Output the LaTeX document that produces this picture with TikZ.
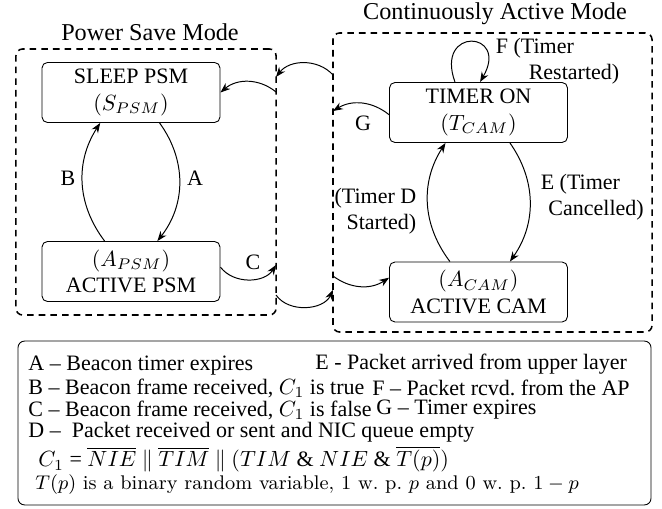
\documentclass[tikz,border=0pt]{standalone}
\usepackage{amsmath}
\usepackage{amssymb}
\usepackage{fontspec}
\setmainfont{Liberation Serif}
\usetikzlibrary{arrows.meta}

\tikzset{
  statebox/.style={draw, rounded corners=2.5pt, minimum width=80.9pt, minimum height=27.3pt, align=center, inner sep=0pt},
  modebox/.style={draw, line width=0.7pt, dash pattern=on 3pt off 2.3pt, rounded corners=3pt, inner sep=0pt},
  trans/.style={-{Stealth[length=4.5pt,width=3.4pt]}, line width=0.45pt},
  legline/.style={anchor=west, inner sep=0pt},
  titletext/.style={font=\fontsize{11}{13}\selectfont},
}

\begin{document}
\begin{tikzpicture}[x=0.4545pt, y=-0.4545pt]
\useasboundingbox (0,0) rectangle (662,508);

% the two modes
\node[modebox, minimum width=118.2pt, minimum height=120.9pt] (psm) at (146,182) {};
\node[modebox, minimum width=145pt, minimum height=135.9pt] (cam) at (492.5,182.5) {};
\node[titletext] (psmtitle) at (150,32) {Power Save Mode};
\node[titletext] (camtitle) at (495,14) {Continuously Active Mode};

% states
\node[statebox] (sleep) at (131,92.5) {SLEEP PSM\\$(S_{PSM})$};
\node[statebox] (actpsm) at (131,271.5) {$(A_{PSM})$\\ACTIVE PSM};
\node[statebox] (timer) at (478.5,112.5) {TIMER ON\\$(T_{CAM})$};
\node[statebox] (actcam) at (478.5,292) {$(A_{CAM})$\\ACTIVE CAM};

% points where transitions cross the mode borders
\coordinate (psmtop) at (276,77);
\coordinate (psmin) at (276,92);
\coordinate (psmout) at (276,265);
\coordinate (psmlow) at (276,295);
\coordinate (camtop) at (333,75);
\coordinate (camout) at (333,111);
\coordinate (camin) at (333,290);
\coordinate (camlow) at (333,276);

% inside power save mode
\draw[trans] ([xshift=13pt]sleep.south) to[bend left=37] ([xshift=12pt]actpsm.north);
\draw[trans] ([xshift=-12pt]actpsm.north) to[bend left=35] ([xshift=-14pt]sleep.south);
\node (lblA) at (195,178) {A};
\node (lblB) at (68,178) {B};

% inside continuously active mode
\draw[trans] ([xshift=14.3pt]timer.south) to[bend left=35] ([xshift=14.3pt]actcam.north);
\draw[trans] ([xshift=-13pt]actcam.north) to[bend left=35] ([xshift=-15pt]timer.south);
\draw[trans] ([xshift=-10.7pt]timer.north) to[out=110,in=60,distance=27pt] ([xshift=0.7pt]timer.north);
\node[align=left, anchor=west] (lblE) at (533,197) {E (Timer\\\hspace*{3.5pt}Cancelled)};
\node[align=right, anchor=east] (lblD) at (424,211) {(Timer D\\Started)};
\node[align=left, anchor=west] (lblF) at (488,61) {F (Timer\\\hspace*{15pt}Restarted)};

% between the modes
\draw[trans] ([yshift=-1pt]timer.west) to[bend right=35] (camout);
\draw[trans] (camtop) to[bend right=50] (psmtop);
\draw[trans] (psmin) to[bend right=40] (sleep.east);
\draw[trans] ([yshift=2pt]actpsm.east) to[bend right=55] (psmout);
\draw[trans] (psmlow) to[bend right=60] (camin);
\draw[trans] (camlow) to[bend right=35] ([yshift=6.5pt]actcam.west);
\node (lblG) at (363,123) {G};
\node (lblC) at (253,262) {C};

% legend
\node[draw, rounded corners=3pt, minimum width=287.7pt, minimum height=74.5pt] (legend) at (334.5,423) {};
\node[legline] (legA) at (28,366) {A -- Beacon timer expires};
\node[legline] (legB) at (28,388) {B -- Beacon frame received, $C_1$ is true};
\node[legline] (legC) at (28,410) {C -- Beacon frame received, $C_1$ is false};
\node[legline] (legD) at (28,432) {D --\ \ Packet received or sent and NIC queue empty};
\node[legline] (legE) at (315,364) {E - Packet arrived from upper layer};
\node[legline] (legF) at (372,388) {F -- Packet rcvd.\ from the AP};
\node[legline] (legG) at (376,410) {G -- Timer expires};
\node[legline] (legCone) at (38,459) {$C_1$ = $\overline{NIE}\ \|\ \overline{TIM}\ \|\ (TIM\ \&\ NIE\ \&\ \overline{T(p)})$};
\node[legline, font=\fontfamily{lmr}\fontsize{9}{11}\selectfont] (legT) at (35,485) {$T(p)$ is a binary random variable, $1$ w.\ p.\ $p$ and $0$ w.\ p.\ $1-p$};
\end{tikzpicture}
\end{document}
